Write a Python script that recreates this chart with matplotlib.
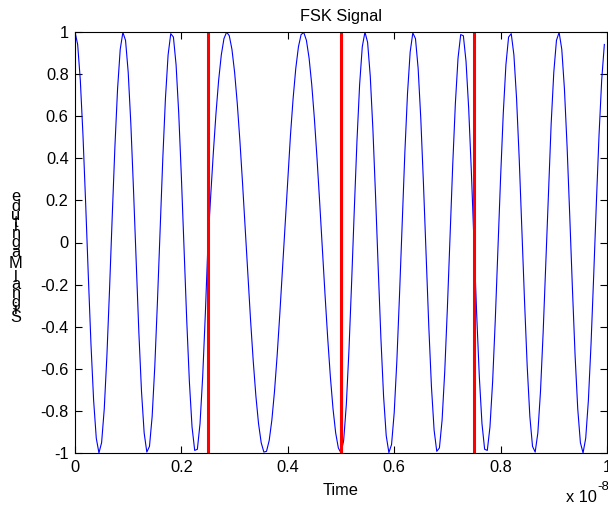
import numpy as np
import matplotlib
matplotlib.use("Agg")
import matplotlib.pyplot as plt
from matplotlib.ticker import FuncFormatter

plt.rcParams["font.family"] = ["Liberation Sans", "DejaVu Sans"]
plt.rcParams["axes.unicode_minus"] = False

# FSK modulation parameters
bits = [1, 0, 1, 1]
freq_one = 1.1e9      # Hz, carrier for a 1 bit
freq_zero = 0.7e9     # Hz, carrier for a 0 bit
bit_period = 0.25e-8  # s
samples_per_bit = 50
boundaries = [0.25e-8, 0.50e-8, 0.75e-8]

x_ticks = [0, 0.2e-8, 0.4e-8, 0.6e-8, 0.8e-8, 1.0e-8]
y_ticks = [-1, -0.8, -0.6, -0.4, -0.2, 0, 0.2, 0.4, 0.6, 0.8, 1]

FS = 11.8

# build the modulated waveform bit by bit
dt = bit_period / samples_per_bit
t_parts, s_parts = [], []
for k, b in enumerate(bits):
    tk = k * bit_period + dt * np.arange(samples_per_bit)
    f = freq_one if b else freq_zero
    t_parts.append(tk)
    s_parts.append(np.cos(2 * np.pi * f * tk))
t = np.concatenate(t_parts)
s = np.concatenate(s_parts)

W, H = 608, 513
fig = plt.figure(figsize=(W / 100, H / 100), dpi=100)
ax = fig.add_axes([75 / W, 60 / H, 532 / W, 421 / H])

ax.plot(t, s, color="#0000ff", lw=0.8)
for xb in boundaries:
    ax.plot([xb, xb], [-1, 1], color="#ff0000", lw=2.2)

ax.set_xlim(0, 1e-8)
ax.set_ylim(-1, 1)
ax.set_xticks(x_ticks)
ax.set_yticks(y_ticks)
ax.xaxis.set_major_formatter(FuncFormatter(lambda v, p: f"{v / 1e-8:g}"))
ax.yaxis.set_major_formatter(FuncFormatter(lambda v, p: f"{v:g}"))
ax.tick_params(direction="in", length=5, width=0.8, labelsize=FS,
               top=True, right=True)
ax.tick_params(axis="x", pad=5)
ax.tick_params(axis="y", pad=4.5)
for sp in ax.spines.values():
    sp.set_linewidth(0.8)

ax.set_title("FSK Signal", fontsize=FS, pad=8)
ax.set_xlabel("Time", fontsize=FS, labelpad=6)

# exponent of the time axis
fig.text(566 / W, 1 - 498 / H, "x 10", fontsize=FS, ha="left", va="center")
fig.text(597 / W, 1 - 487 / H, "-8", fontsize=FS * 0.8, ha="left", va="center")

# y label drawn glyph by glyph, stacked upward
label = "Signal Magnitude"
adv = {"S": 0.667, "i": 0.222, "g": 0.556, "n": 0.556, "a": 0.556,
       "l": 0.222, " ": 0.278, "M": 0.833, "t": 0.278, "u": 0.556,
       "d": 0.556, "e": 0.556}
em_px = 16.9
pos = 317.0 + adv[label[0]] / 2 * em_px
for ch in label:
    w = adv[ch] * em_px
    c = pos - w / 2
    if ch != " ":
        fig.text(16 / W, 1 - c / H, ch, fontsize=FS, ha="center", va="center")
    pos -= w

fig.savefig("out.png", dpi=100)
